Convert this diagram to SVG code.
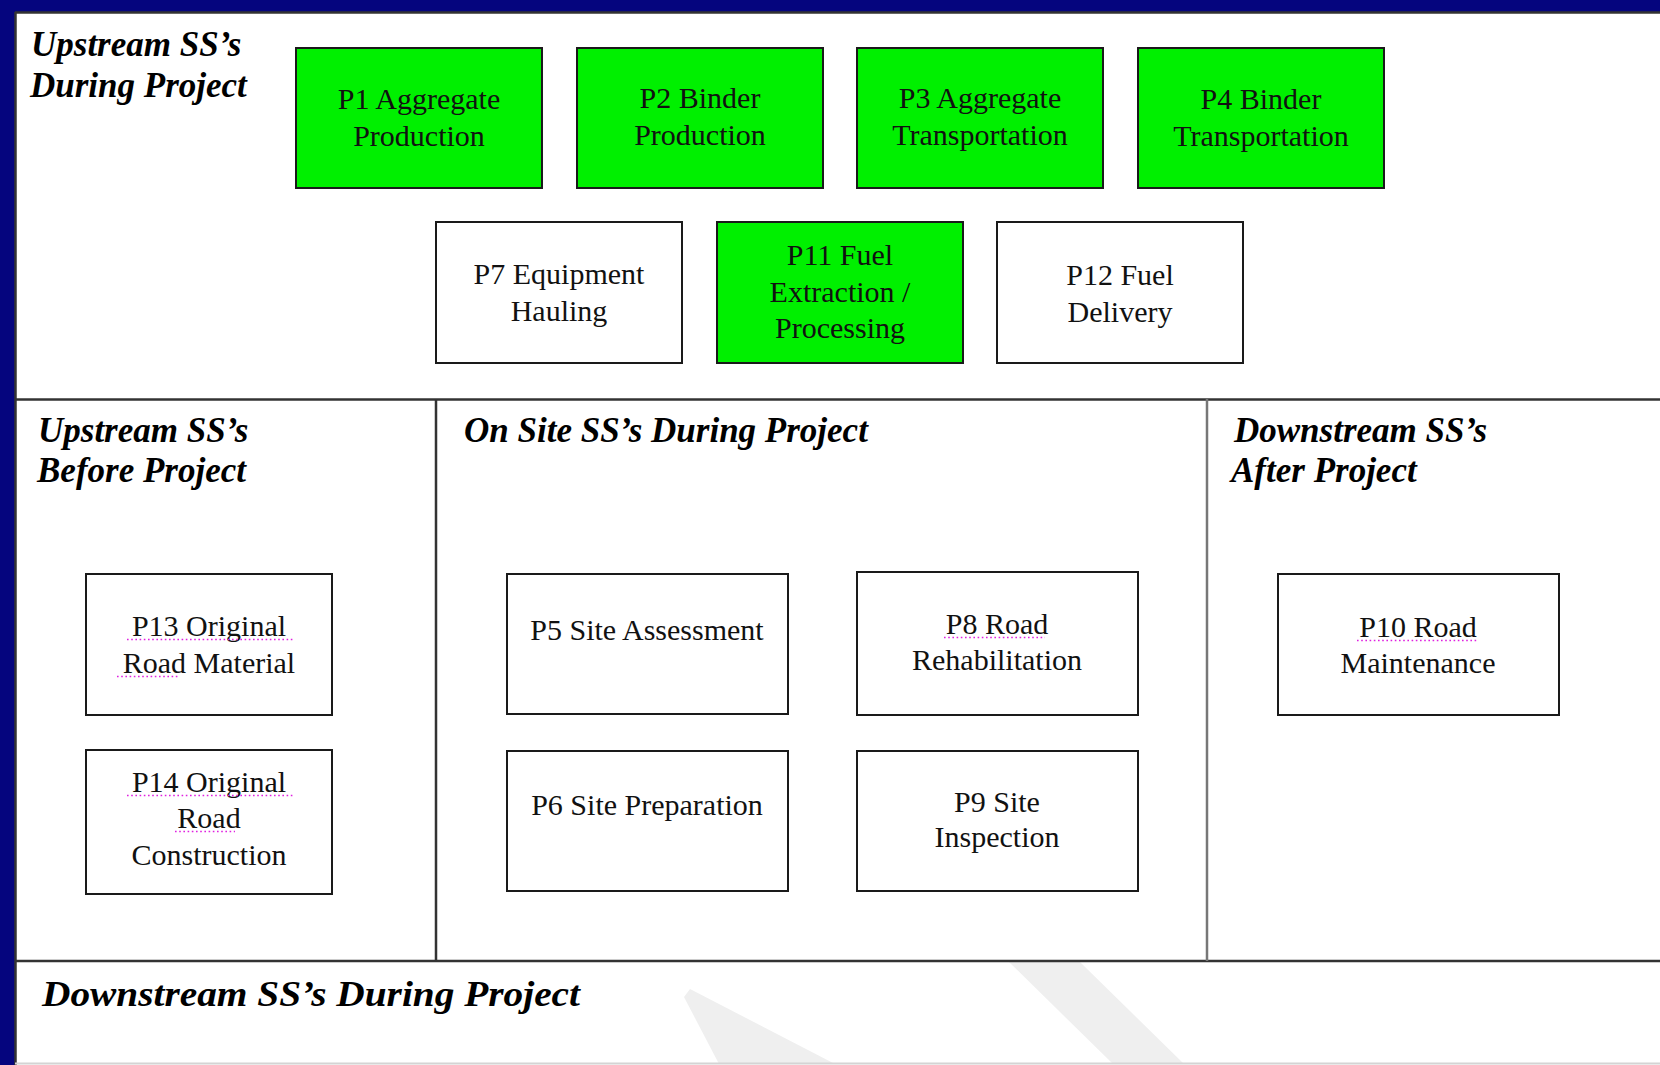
<svg xmlns="http://www.w3.org/2000/svg" width="1660" height="1065" viewBox="0 0 1660 1065">
<style>
.bx{stroke:#1a1a1a;stroke-width:2}
.g{fill:#00f000}
.w{fill:#ffffff}
.t{font-family:"Liberation Serif","Times New Roman",serif;font-size:30px;fill:#111;text-anchor:middle}
.h{font-family:"Liberation Serif","Times New Roman",serif;font-size:35px;font-weight:bold;font-style:italic;fill:#000}
.div{stroke:#333;stroke-width:2.5;fill:none}
.ul{stroke:#e020e0;stroke-width:1.6;stroke-dasharray:1.6 2.6;fill:none}
</style>
<rect x="0" y="0" width="1660" height="1065" fill="#05057e"/>
<rect x="15" y="12" width="1645" height="1053" fill="#ffffff"/>
<g id="watermark" fill="#efefef">
<polygon points="684,997 690,989 835,1064 719,1064"/>
<polygon points="1009,962 1080,962 1184,1064 1113,1064"/>
</g>
<g id="frame">
<line class="div" x1="15" y1="12.5" x2="1660" y2="12.5"/>
<line class="div" x1="15.5" y1="12" x2="15.5" y2="1065"/>
<line class="div" x1="15" y1="399.5" x2="1660" y2="399.5"/>
<line class="div" x1="15" y1="961" x2="1660" y2="961"/>
<line class="div" x1="436" y1="399" x2="436" y2="961"/>
<line x1="1207" y1="399" x2="1207" y2="961" stroke="#777" stroke-width="2.5"/>
<line x1="15" y1="1063.5" x2="1660" y2="1063.5" stroke="#d4d4d4" stroke-width="2"/>
</g>
<g id="titles">
<text class="h" x="31" y="56">Upstream SS’s</text>
<text class="h" x="30" y="97">During Project</text>
<text class="h" x="38" y="442">Upstream SS’s</text>
<text class="h" x="37" y="482">Before Project</text>
<text class="h" x="464" y="442">On Site SS’s During Project</text>
<text class="h" x="1234" y="442">Downstream SS’s</text>
<text class="h" x="1231" y="482">After Project</text>
<text class="h" x="42" y="1006" textLength="538" lengthAdjust="spacingAndGlyphs">Downstream SS’s During Project</text>
</g>
<g id="P1"><rect class="bx g" x="296" y="48" width="246" height="140"/><text class="t" x="419" y="109">P1 Aggregate</text><text class="t" x="419" y="146">Production</text></g>
<g id="P2"><rect class="bx g" x="577" y="48" width="246" height="140"/><text class="t" x="700" y="108">P2 Binder</text><text class="t" x="700" y="145">Production</text></g>
<g id="P3"><rect class="bx g" x="857" y="48" width="246" height="140"/><text class="t" x="980" y="108">P3 Aggregate</text><text class="t" x="980" y="145">Transportation</text></g>
<g id="P4"><rect class="bx g" x="1138" y="48" width="246" height="140"/><text class="t" x="1261" y="109">P4 Binder</text><text class="t" x="1261" y="146">Transportation</text></g>
<g id="P7"><rect class="bx w" x="436" y="222" width="246" height="141"/><text class="t" x="559" y="284">P7 Equipment</text><text class="t" x="559" y="321">Hauling</text></g>
<g id="P11"><rect class="bx g" x="717" y="222" width="246" height="141"/><text class="t" x="840" y="265">P11 Fuel</text><text class="t" x="840" y="302">Extraction /</text><text class="t" x="840" y="338">Processing</text></g>
<g id="P12"><rect class="bx w" x="997" y="222" width="246" height="141"/><text class="t" x="1120" y="285">P12 Fuel</text><text class="t" x="1120" y="322">Delivery</text></g>
<g id="P13"><rect class="bx w" x="86" y="574" width="246" height="141"/><text class="t" x="209" y="636">P13 Original</text><text class="t" x="209" y="673">Road Material</text><path class="ul" d="M127 639.5H293M117 676.5H179"/></g>
<g id="P14"><rect class="bx w" x="86" y="750" width="246" height="144"/><text class="t" x="209" y="792">P14 Original</text><text class="t" x="209" y="828">Road</text><text class="t" x="209" y="865">Construction</text><path class="ul" d="M127 795.5H293M175 831.5H235"/></g>
<g id="P5"><rect class="bx w" x="507" y="574" width="281" height="140"/><text class="t" x="647" y="640">P5 Site Assessment</text></g>
<g id="P6"><rect class="bx w" x="507" y="751" width="281" height="140"/><text class="t" x="647" y="815">P6 Site Preparation</text></g>
<g id="P8"><rect class="bx w" x="857" y="572" width="281" height="143"/><text class="t" x="997" y="634">P8 Road</text><text class="t" x="997" y="670">Rehabilitation</text><path class="ul" d="M944 637.5H1045"/></g>
<g id="P9"><rect class="bx w" x="857" y="751" width="281" height="140"/><text class="t" x="997" y="812">P9 Site</text><text class="t" x="997" y="847">Inspection</text></g>
<g id="P10"><rect class="bx w" x="1278" y="574" width="281" height="141"/><text class="t" x="1418" y="637">P10 Road</text><text class="t" x="1418" y="673">Maintenance</text><path class="ul" d="M1357 640.5H1477"/></g>
<g id="connectors"></g>
</svg>
